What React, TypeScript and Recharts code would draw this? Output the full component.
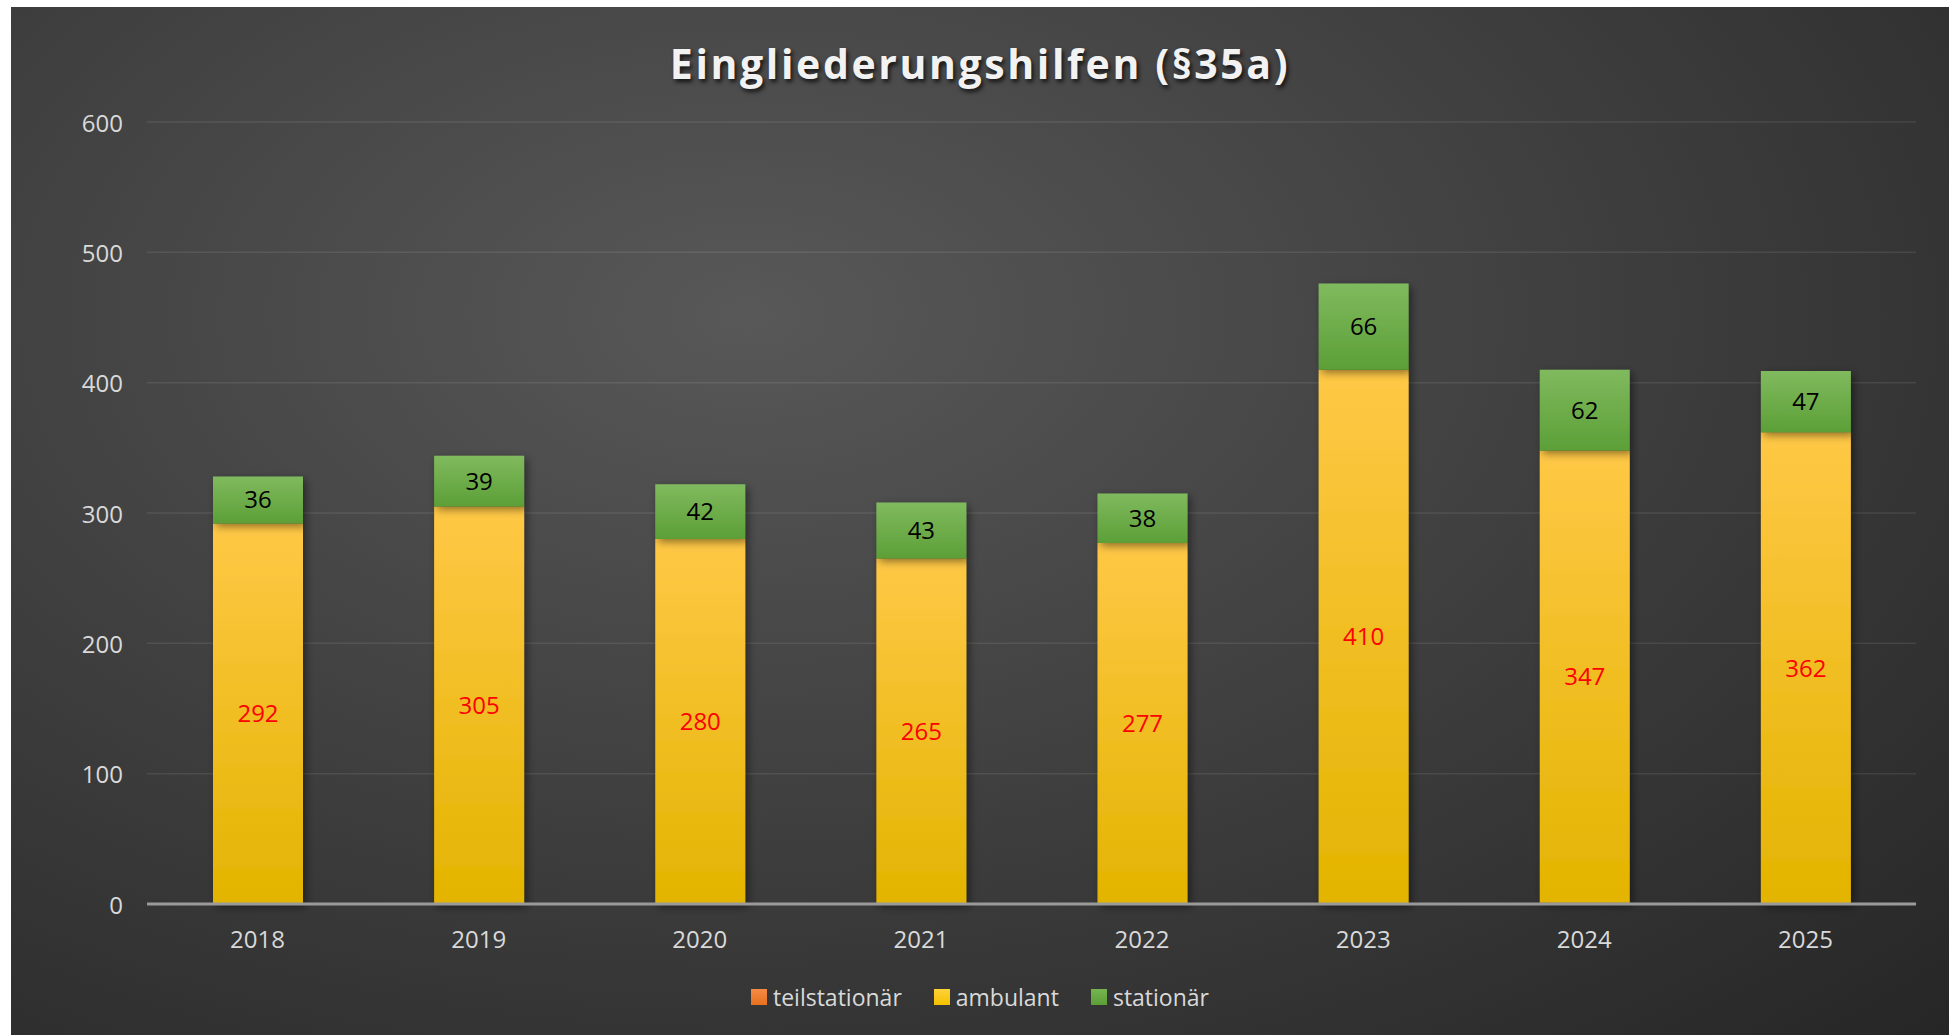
import React from 'react'
import { BarChart, Bar, XAxis, YAxis, CartesianGrid, LabelList } from 'recharts'

const years = ['2018', '2019', '2020', '2021', '2022', '2023', '2024', '2025']
const teilstationaer = [0, 0, 0, 0, 0, 0, 1, 0]
const ambulant = [292, 305, 280, 265, 277, 410, 347, 362]
const stationaer = [36, 39, 42, 43, 38, 66, 62, 47]
const yTicks = [0, 100, 200, 300, 400, 500, 600]

const series = [
  { key: 'teilstationär', top: '#F59A55', bottom: '#E2701E', swatch: 'linear-gradient(#F58A45, #E8711F)' },
  { key: 'ambulant', top: '#FFC846', bottom: '#E3B400', swatch: 'linear-gradient(#FFD23A, #F5C000)' },
  { key: 'stationär', top: '#80BA5E', bottom: '#5C9F37', swatch: 'linear-gradient(#76B450, #5C9F37)' },
]

const data = years.map((year, i) => ({
  year,
  'teilstationär': teilstationaer[i],
  ambulant: ambulant[i],
  'stationär': stationaer[i],
}))

const FONT = '"Open Sans", sans-serif'
const W = 1938
const H = 1028

function YTick({ x, y, payload }: any) {
  return (
    <text x={x - 24} y={y} textAnchor="end" dominantBaseline="central" fill="#D9D9D9" fontSize={24} fontFamily={FONT}>
      {payload.value}
    </text>
  )
}

function XTick({ x, y, payload }: any) {
  return (
    <text x={x} y={y + 34} textAnchor="middle" dominantBaseline="central" fill="#D9D9D9" fontSize={24} fontFamily={FONT}>
      {payload.value}
    </text>
  )
}

export default function App() {
  return (
    <div
      style={{
        position: 'absolute',
        left: 11,
        top: 7,
        width: W,
        height: H,
        background: 'radial-gradient(ellipse farthest-corner at 38% 30%, #585858 0%, #3c3c3c 55%, #262626 100%)',
        fontFamily: FONT,
        overflow: 'hidden',
      }}
    >
      <div
        style={{
          position: 'absolute',
          top: 30,
          left: 0,
          width: W,
          textAlign: 'center',
          color: '#F2F2F2',
          fontSize: 41,
          fontWeight: 700,
          letterSpacing: 2.6,
          lineHeight: '52px',
          textShadow: '2px 3px 4px rgba(0,0,0,0.75)',
        }}
      >
        Eingliederungshilfen (§35a)
      </div>
      <BarChart
        width={W}
        height={H}
        data={data}
        margin={{ top: 115, right: 33, left: 0, bottom: 91 }}
        style={{ position: 'absolute', left: 0, top: 0 }}
      >
        <defs>
          {series.map((s, i) => (
            <linearGradient key={s.key} id={'grad' + i} x1="0" y1="0" x2="0" y2="1">
              <stop offset="0%" stopColor={s.top} />
              <stop offset="100%" stopColor={s.bottom} />
            </linearGradient>
          ))}
          <filter id="shadow" x="-20%" y="-20%" width="150%" height="150%">
            <feDropShadow dx="3" dy="3" stdDeviation="4" floodColor="#000" floodOpacity="0.45" />
          </filter>
        </defs>
        <CartesianGrid vertical={false} stroke="rgba(255,255,255,0.09)" strokeWidth={1.5} />
        <XAxis
          dataKey="year"
          height={40}
          tickLine={false}
          tickSize={0}
          tickMargin={0}
          axisLine={{ stroke: '#9A9A9A', strokeWidth: 3 }}
          tick={<XTick />}
        />
        <YAxis
          width={136}
          domain={[0, 600]}
          ticks={yTicks}
          tickLine={false}
          tickSize={0}
          tickMargin={0}
          axisLine={false}
          tick={<YTick />}
        />
        {series.map((s, i) => (
          <Bar
            key={s.key}
            dataKey={s.key}
            stackId="a"
            barSize={90}
            fill={`url(#grad${i})`}
            isAnimationActive={false}
            style={{ filter: 'url(#shadow)' }}
          >
            {s.key === 'ambulant' && (
              <LabelList dataKey="ambulant" position="center" fill="#FF0000" fontSize={24} fontFamily={FONT} />
            )}
            {s.key === 'stationär' && (
              <LabelList dataKey="stationär" position="center" fill="#000000" fontSize={24} fontFamily={FONT} />
            )}
          </Bar>
        ))}
      </BarChart>
      <div
        style={{
          position: 'absolute',
          top: 974,
          left: 0,
          width: W,
          display: 'flex',
          justifyContent: 'center',
          gap: 32,
          color: '#D9D9D9',
          fontSize: 23,
          lineHeight: '32px',
        }}
      >
        {series.map((s) => (
          <div key={s.key} style={{ display: 'flex', alignItems: 'center', gap: 6 }}>
            <span style={{ display: 'inline-block', width: 16, height: 16, background: s.swatch }} />
            <span>{s.key}</span>
          </div>
        ))}
      </div>
    </div>
  )
}
